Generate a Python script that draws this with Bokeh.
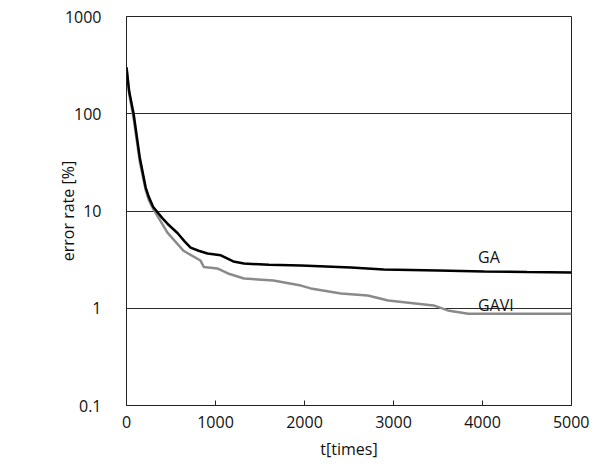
from bokeh.plotting import figure
from bokeh.models import FixedTicker, Range1d, Label
from bokeh.embed import file_html
from bokeh.resources import INLINE

ga_t = [0, 30, 80, 150, 215, 250, 300, 400, 460, 575, 650, 720, 810, 910, 1060, 1200, 1320, 1600, 1960, 2520, 2890, 3500, 4020, 4500, 5000]
ga_v = [300, 170, 100, 35, 17.5, 14, 11, 8.5, 7.4, 5.9, 4.9, 4.2, 3.9, 3.66, 3.5, 3.03, 2.88, 2.8, 2.75, 2.62, 2.5, 2.45, 2.39, 2.36, 2.33]

gavi_t = [0, 30, 80, 150, 215, 250, 300, 460, 640, 830, 870, 1020, 1140, 1320, 1650, 1960, 2070, 2410, 2710, 2940, 3450, 3610, 3840, 5000]
gavi_v = [300, 160, 90, 32, 16.5, 13, 10.5, 6.0, 3.9, 3.1, 2.65, 2.57, 2.28, 2.02, 1.93, 1.71, 1.6, 1.42, 1.35, 1.2, 1.07, 0.95, 0.88, 0.88]

x_ticks = [0, 1000, 2000, 3000, 4000, 5000]
y_ticks = [0.1, 1, 10, 100, 1000]
y_tick_labels = ["0.1", "1", "10", "100", "1000"]

series_labels = ["GA", "GAVI"]
label_t = [3950, 3950]
label_v = [3.37, 1.07]

FONT = "Open Sans"
FS = "16px"

p = figure(width=589, height=461, frame_width=445, frame_height=389,
           y_axis_type="log", output_backend="svg", toolbar_location=None,
           min_border_left=126, min_border_right=18, min_border_top=16, min_border_bottom=56,
           x_range=Range1d(0, 5000), y_range=Range1d(0.1, 1000))

p.background_fill_color = "white"
p.border_fill_color = "white"
p.outline_line_color = "#222222"
p.outline_line_width = 1

p.xgrid.visible = False
p.ygrid.grid_line_color = "#2a2a2a"
p.ygrid.grid_line_width = 1
p.ygrid.ticker = FixedTicker(ticks=y_ticks)

p.xaxis.ticker = FixedTicker(ticks=x_ticks)
p.yaxis.ticker = FixedTicker(ticks=y_ticks)
p.yaxis.major_label_overrides = {t: l for t, l in zip(y_ticks, y_tick_labels)}

for ax in (p.xaxis[0], p.yaxis[0]):
    ax.axis_line_color = "#222222"
    ax.axis_line_width = 1
    ax.minor_tick_line_color = None
    ax.major_label_text_font = FONT
    ax.major_label_text_font_size = FS
    ax.major_label_text_color = "#111111"
    ax.axis_label_text_font = FONT
    ax.axis_label_text_font_size = FS
    ax.axis_label_text_font_style = "normal"
    ax.axis_label_text_color = "#111111"

p.xaxis.major_tick_in = 5
p.xaxis.major_tick_out = 0
p.xaxis.major_tick_line_color = "#222222"
p.xaxis.major_label_standoff = 10
p.xaxis.axis_label = "t[times]"
p.xaxis.axis_label_standoff = 7

p.yaxis.major_tick_line_color = None
p.yaxis.major_label_standoff = 19
p.yaxis.axis_label = "error rate [%]"
p.yaxis.axis_label_standoff = -17

p.line(gavi_t, gavi_v, line_color="#8a8a8a", line_width=2.5)
p.line(ga_t, ga_v, line_color="#000000", line_width=2.5)

for s, t, v in zip(series_labels, label_t, label_v):
    p.add_layout(Label(x=t, y=v, text=s, text_font=FONT, text_font_size=FS,
                       text_color="#111111", text_baseline="middle", text_align="left"))

open("out.html", "w").write(file_html(p, INLINE))
